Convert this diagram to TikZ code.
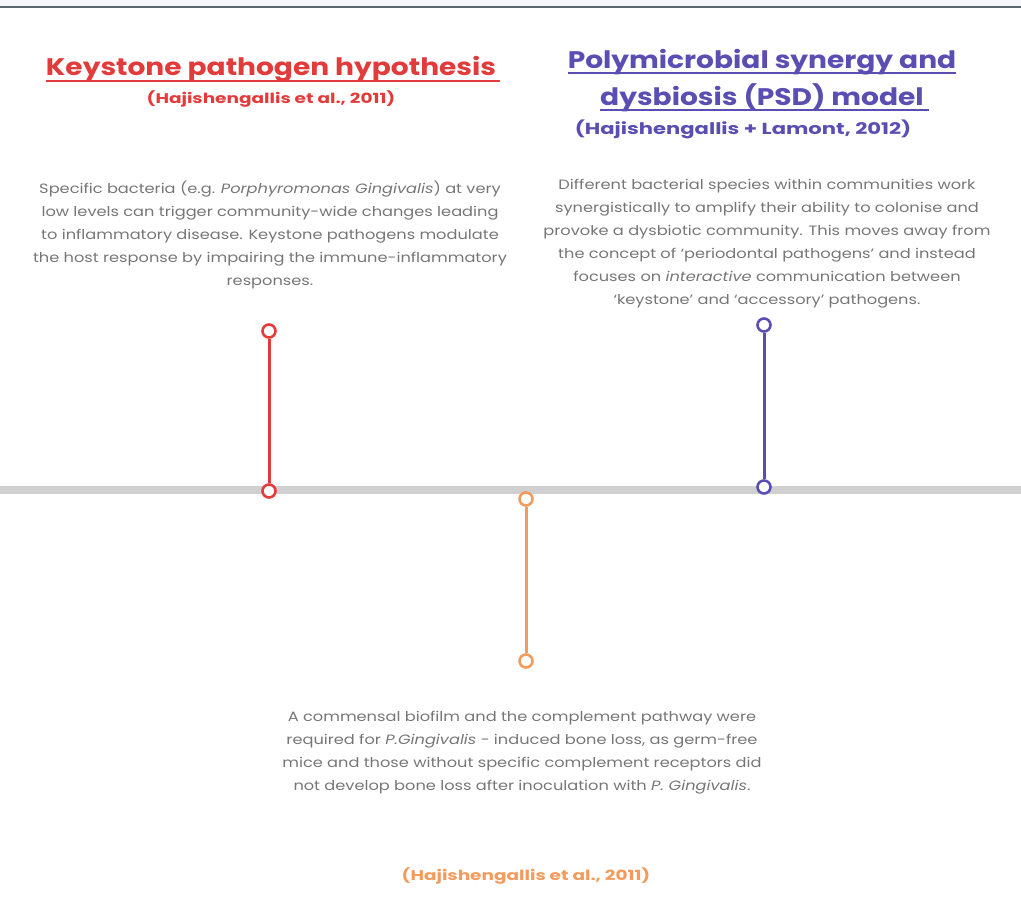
\documentclass[tikz,border=0pt]{standalone}
\usepackage{fontspec}
\setmainfont{Poppins}
\newfontfamily\bodyfont[FakeStretch=1.2, Ligatures=TeX]{Poppins}
\newfontfamily\titlefont[FakeStretch=1.17, Ligatures=TeX]{Poppins}
\newfontfamily\citefont[FakeStretch=1.32, Ligatures=TeX]{Poppins}
\definecolor{kred}{HTML}{E23B3B}
\definecolor{kpurple}{HTML}{5A4EB3}
\definecolor{korange}{HTML}{F39B5C}
\definecolor{kgrey}{HTML}{767676}
\definecolor{kline}{HTML}{D0D0D0}
\definecolor{kband}{HTML}{F5F5FA}
\definecolor{ktop}{HTML}{5C6670}
\tikzset{
  title/.style={inner sep=0pt, anchor=base, font=\titlefont\bfseries\fontsize{24}{28}\selectfont},
  cite/.style={inner sep=0pt, anchor=base, font=\citefont\bfseries\fontsize{14}{16}\selectfont},
  bigcite/.style={inner sep=0pt, anchor=base, font=\citefont\bfseries\fontsize{16}{18}\selectfont},
  body/.style={inner sep=0pt, anchor=north, align=center, text=kgrey, font=\bodyfont\fontsize{13.5}{23}\selectfont},
  dot/.style={circle, draw=#1, fill=white, line width=2.6pt, minimum size=13pt, inner sep=0pt},
  stem/.style={draw=#1, line width=3pt},
  uline/.style={line width=1.3pt}
}
\begin{document}
\begin{tikzpicture}[x=1pt,y=-1pt]
\useasboundingbox (0,0) rectangle (1021,915);
\fill[kband] (0,0) rectangle (1021,7);
\draw[ktop, line width=1.5pt] (0,7) -- (1021,7);
\draw[kline, line width=8pt] (0,490) -- (1021,490);

% titles
\node[title, text=kred] (kt) at (271,76) {Keystone pathogen hypothesis};
\draw[uline, kred] ([yshift=-5pt]kt.base west) -- ([yshift=-5pt,xshift=4pt]kt.base east);
\node[cite, text=kred] (kc) at (271,104) {(Hajishengallis et al., 2011)};

\node[title, text=kpurple] (pt1) at (762,69) {Polymicrobial synergy and};
\draw[uline, kpurple] ([yshift=-4pt]pt1.base west) -- ([yshift=-4pt]pt1.base east);
\node[title, text=kpurple] (pt2) at (762,106) {dysbiosis (PSD) model};
\draw[uline, kpurple] ([yshift=-4pt]pt2.base west) -- ([yshift=-4pt,xshift=5pt]pt2.base east);
\node[bigcite, text=kpurple] (pc) at (743,135) {(Hajishengallis + Lamont, 2012)};

% body texts
\node[body] (kb) at (270,181) {Specific bacteria (e.g. \textit{Porphyromonas Gingivalis}) at very\\
low levels can trigger community-wide changes leading\\
to inflammatory disease. Keystone pathogens modulate\\
the host response by impairing the immune-inflammatory\\
responses.};

\node[body] (pb) at (767,179) {Different bacterial species within communities work\\
synergistically to amplify their ability to colonise and\\
provoke a dysbiotic community. This moves away from\\
the concept of ‘periodontal pathogens’ and instead\\
focuses on \textit{interactive} communication between\\
‘keystone’ and ‘accessory’ pathogens.};

\node[body] (ob) at (522,711) {A commensal biofilm and the complement pathway were\\
required for \textit{P.Gingivalis} - induced bone loss, as germ-free\\
mice and those without specific complement receptors did\\
not develop bone loss after inoculation with \textit{P. Gingivalis}.};

\node[cite, text=korange] (oc) at (526,880) {(Hajishengallis et al., 2011)};

% stems
\node[dot=kred] (r1) at (269,331) {};
\node[dot=kred] (r2) at (269,491) {};
\draw[stem=kred] (r1) -- (r2);
\node[dot=kpurple] (p1) at (764,325) {};
\node[dot=kpurple] (p2) at (764,487) {};
\draw[stem=kpurple] (p1) -- (p2);
\node[dot=korange] (o1) at (526,499) {};
\node[dot=korange] (o2) at (526,661) {};
\draw[stem=korange] (o1) -- (o2);
\end{tikzpicture}
\end{document}
